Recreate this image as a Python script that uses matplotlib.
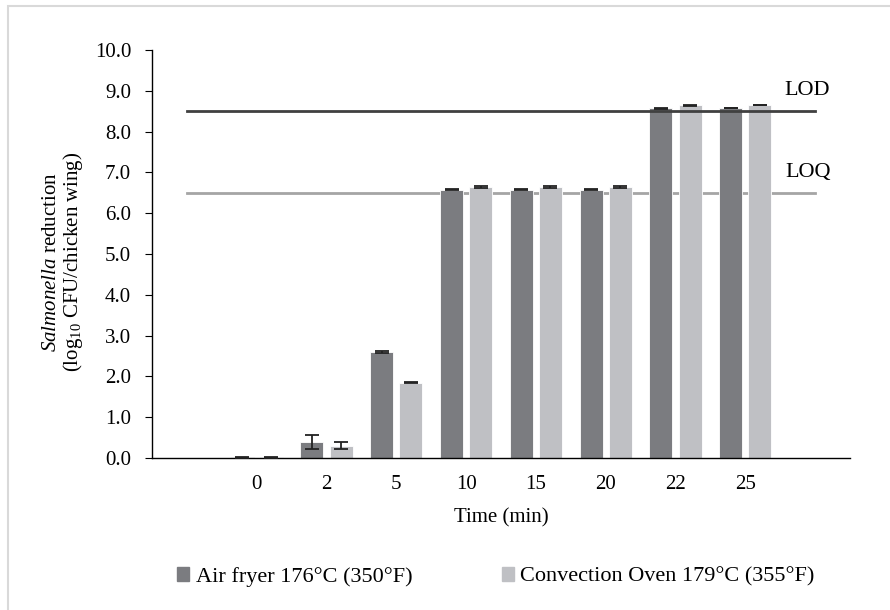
import matplotlib.pyplot as plt
import matplotlib.patches as mpatches
import numpy as np

plt.rcParams['font.family'] = 'Liberation Serif'
plt.rcParams['mathtext.fontset'] = 'custom'
plt.rcParams['mathtext.rm'] = 'Liberation Serif'
plt.rcParams['mathtext.it'] = 'Liberation Serif:italic'

# categories (blank slot on both ends like the original)
times = ['', '0', '2', '5', '10', '15', '20', '22', '25', '']
air_fryer = [np.nan, 0.02, 0.40, 2.60, 6.58, 6.58, 6.58, 8.57, 8.57, np.nan]
air_err = [0, 0.01, 0.17, 0.02, 0.02, 0.02, 0.02, 0.02, 0.0, 0]
oven = [np.nan, 0.02, 0.30, 1.85, 6.64, 6.64, 6.64, 8.64, 8.64, np.nan]
oven_err = [0, 0.01, 0.08, 0.02, 0.02, 0.02, 0.02, 0.02, 0.0, 0]
lod = 8.5
loq = 6.5

c_air = '#7b7c80'
c_oven = '#bfc0c4'

fig = plt.figure(figsize=(8.9, 6.1), dpi=100)
ax = fig.add_axes([152/890, 1-458/610, (850-152)/890, (458-50)/610])

x = np.arange(len(times))
w = 0.33
off = 0.208
ax.bar(x - off, air_fryer, w, color=c_air, edgecolor='white', lw=0.6, zorder=2)
ax.bar(x + off, oven, w, color=c_oven, edgecolor='white', lw=0.6, zorder=2)
ax.errorbar(x - off, air_fryer, yerr=air_err, fmt='none', ecolor='#222222',
            elinewidth=1.3, capsize=5, capthick=1.3, zorder=3)
ax.errorbar(x + off, oven, yerr=oven_err, fmt='none', ecolor='#222222',
            elinewidth=1.3, capsize=5, capthick=1.3, zorder=3)

ax.plot([x[0], x[-1]], [lod, lod], color='#404040', lw=2, zorder=4)
ax.plot([x[0], x[-1]], [loq, loq], color='#a5a5a5', lw=2, zorder=1)
ax.text(8.88, 9.0, 'LOD', ha='center', va='center', fontsize=16)
ax.text(8.9, 7.0, 'LOQ', ha='center', va='center', fontsize=16)

ax.set_xlim(-0.5, len(times) - 0.5)
ax.set_ylim(0, 10)
ax.set_yticks(np.arange(0, 10.1, 1.0))
ax.set_yticklabels(['%.1f' % v for v in np.arange(0, 10.1, 1.0)], fontsize=15)
ax.set_xticks(x)
ax.set_xticklabels(times, fontsize=15)
ax.tick_params(axis='x', length=0, pad=12)
ax.tick_params(axis='y', length=5, direction='out', pad=10)
for s in ['top', 'right']:
    ax.spines[s].set_visible(False)
ax.spines['left'].set_linewidth(1)
ax.spines['bottom'].set_linewidth(1)

ax.set_xlabel('Time (min)', fontsize=15)
ax.xaxis.set_label_coords(0.5, -(518-458)/408)
ax.xaxis.label.set_va('center')
ax.set_ylabel('$\\it{Salmonella}$ reduction\n(log$_{10}$ CFU/chicken wing)', fontsize=15,
              linespacing=1.0)
ax.yaxis.set_label_coords((64-152)/698, 0.48)
ax.yaxis.label.set_va('center')

handles = [mpatches.Patch(color=c_air), mpatches.Patch(color=c_oven)]
fig.legend(handles, ['Air fryer 176°C (350°F)', 'Convection Oven 179°C (355°F)'],
           loc='center', bbox_to_anchor=(496/890, 1-577/610), ncol=2, frameon=False,
           fontsize=16, handlelength=0.55, handleheight=0.55, handletextpad=0.3,
           columnspacing=4.0)

# light frame like the source image
fig.patches.append(mpatches.Rectangle((8/890, -0.1), 2, 1.1 - 6/610, transform=fig.transFigure,
                                      fill=False, edgecolor='#d9d9d9', lw=1.5, zorder=0))

fig.savefig('out.png', dpi=100)
